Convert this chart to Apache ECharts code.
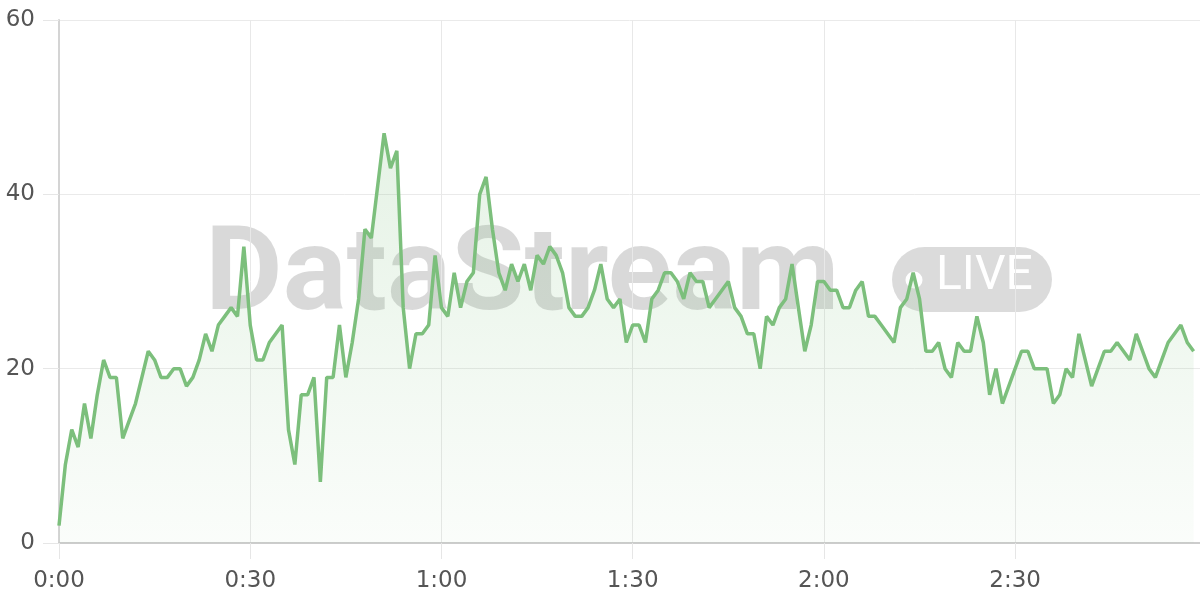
<!DOCTYPE html>
<html>
<head>
<meta charset="utf-8">
<script src="https://cdn.jsdelivr.net/npm/echarts@6/dist/echarts.min.js"></script>
<style>
html,body{margin:0;padding:0;background:#fff;}
#chart{width:1200px;height:600px;}
</style>
</head>
<body>
<div id="chart"></div>
<script>
// Values per second (index = seconds since 0:00)
const values = [
  2, 9, 13, 11, 16, 12, 17, 21, 19, 19,
  12, 14, 16, 19, 22, 21, 19, 19, 20, 20,
  18, 19, 21, 24, 22, 25, 26, 27, 26, 34,
  25, 21, 21, 23, 24, 25, 13, 9, 17, 17,
  19, 7, 19, 19, 25, 19, 23, 28, 36, 35,
  41, 47, 43, 45, 27, 20, 24, 24, 25, 33,
  27, 26, 31, 27, 30, 31, 40, 42, 36, 31,
  29, 32, 30, 32, 29, 33, 32, 34, 33, 31,
  27, 26, 26, 27, 29, 32, 28, 27, 28, 23,
  25, 25, 23, 28, 29, 31, 31, 30, 28, 31,
  30, 30, 27, 28, 29, 30, 27, 26, 24, 24,
  20, 26, 25, 27, 28, 32, 27, 22, 25, 30,
  30, 29, 29, 27, 27, 29, 30, 26, 26, 25,
  24, 23, 27, 28, 31, 28, 22, 22, 23, 20,
  19, 23, 22, 22, 26, 23, 17, 20, 16, 18,
  20, 22, 22, 20, 20, 20, 16, 17, 20, 19,
  24, 21, 18, 20, 22, 22, 23, 22, 21, 24,
  22, 20, 19, 21, 23, 24, 25, 23, 22
];
const totalSeconds = 180;
const tickLabels = ['0:00', '0:30', '1:00', '1:30', '2:00', '2:30'];
const yTicks = [0, 20, 40, 60];

const categories = [];
for (let s = 0; s < totalSeconds; s++) {
  categories.push(Math.floor(s / 60) + ':' + String(s % 60).padStart(2, '0'));
}

const chart = echarts.init(document.getElementById('chart'), null, {renderer: 'canvas'});
const green = '#7cbf7c';

chart.setOption({
  animation: false,
  backgroundColor: '#ffffff',
  grid: {left: 59, right: 0, top: 20, bottom: 57, containLabel: false},
  graphic: [
    {
      type: 'group',
      z: 0,
      silent: true,
      children: [
        {
          type: 'text',
          x: 205, y: 222,
          scaleX: 1.03,
          style: {
            text: 'DataStream',
            font: '700 116px Roboto',
            fill: 'rgba(0,0,0,0.15)',
            verticalAlign: 'top'
          }
        },
        {
          type: 'rect',
          shape: {x: 892, y: 247, width: 160, height: 65, r: 32.5},
          style: {fill: 'rgba(0,0,0,0.14)'}
        },
        {
          type: 'circle',
          shape: {cx: 914, cy: 280, r: 8.5},
          style: {fill: '#ffffff'}
        },
        {
          type: 'text',
          x: 936, y: 253,
          style: {
            text: 'LIVE',
            font: '400 48px Roboto',
            fill: '#ffffff',
            verticalAlign: 'top'
          }
        }
      ]
    }
  ],
  xAxis: {
    type: 'category',
    data: categories,
    boundaryGap: false,
    axisLine: {show: true, lineStyle: {color: '#cccccc', width: 2}},
    axisTick: {show: true, interval: 29, length: 16, lineStyle: {color: '#e6e6e6', width: 1}},
    axisLabel: {
      interval: 29,
      margin: 27,
      color: '#555555',
      fontSize: 23,
      fontFamily: 'DejaVu Sans',
      formatter: (v, i) => tickLabels[i / 30] !== undefined ? tickLabels[i / 30] : v
    },
    splitLine: {show: true, interval: 29, lineStyle: {color: '#e8e8e8', width: 1}}
  },
  yAxis: {
    type: 'value',
    min: yTicks[0],
    max: yTicks[yTicks.length - 1],
    interval: 20,
    axisLine: {show: true, lineStyle: {color: '#d4d4d4', width: 2}},
    axisTick: {show: true, length: 16, lineStyle: {color: '#e6e6e6', width: 1}},
    axisLabel: {margin: 24, color: '#555555', fontSize: 23, fontFamily: 'DejaVu Sans'},
    splitLine: {show: true, lineStyle: {color: '#eaeaea', width: 1}}
  },
  series: [{
    type: 'line',
    data: values,
    showSymbol: false,
    symbol: 'none',
    z: 3,
    lineStyle: {color: green, width: 3.5},
    itemStyle: {color: green},
    areaStyle: {
      color: new echarts.graphic.LinearGradient(0, 0, 0, 1, [
        {offset: 0, color: 'rgba(124,191,124,0.28)'},
        {offset: 1, color: 'rgba(124,191,124,0.05)'}
      ])
    }
  }]
});
</script>
</body>
</html>
